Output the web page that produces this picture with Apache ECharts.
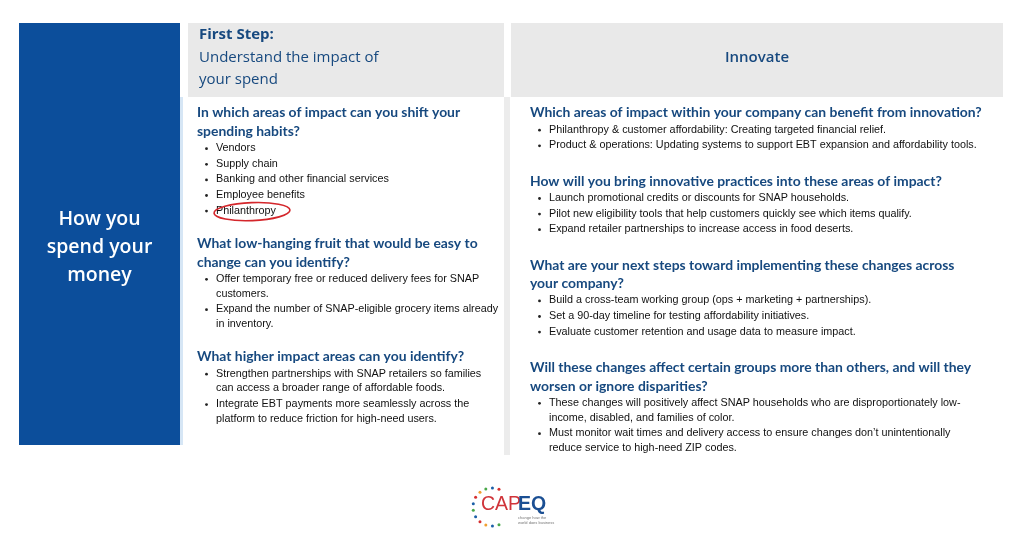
<!DOCTYPE html>
<html>
<head>
<meta charset="utf-8">
<script src="https://cdn.jsdelivr.net/npm/echarts@6/dist/echarts.min.js"></script>
<style>
  html, body { margin: 0; padding: 0; background: #fff; }
  #chart { width: 1024px; height: 533px; }
</style>
</head>
<body>
<div id="chart"></div>
<script>
// Text content
const sideLabel = ['How you', 'spend your', 'money'];
const leftHeader = ['First Step:', 'Understand the impact of', 'your spend'];
const rightHeader = 'Innovate';

const leftHeadings = [
    ['In which areas of impact can you shift your', 'spending habits?'],
    ['What low-hanging fruit that would be easy to', 'change can you identify?'],
    ['What higher impact areas can you identify?']
];
const leftBullets = [
    [['Vendors'], ['Supply chain'], ['Banking and other financial services'], ['Employee benefits'], ['Philanthropy']],
    [['Offer temporary free or reduced delivery fees for SNAP', 'customers.'],
     ['Expand the number of SNAP-eligible grocery items already', 'in inventory.']],
    [['Strengthen partnerships with SNAP retailers so families', 'can access a broader range of affordable foods.'],
     ['Integrate EBT payments more seamlessly across the', 'platform to reduce friction for high-need users.']]
];
const rightHeadings = [
    ['Which areas of impact within your company can benefit from innovation?'],
    ['How will you bring innovative practices into these areas of impact?'],
    ['What are your next steps toward implementing these changes across', 'your company?'],
    ['Will these changes affect certain groups more than others, and will they', 'worsen or ignore disparities?']
];
const rightBullets = [
    [['Philanthropy & customer affordability: Creating targeted financial relief.'],
     ['Product & operations: Updating systems to support EBT expansion and affordability tools.']],
    [['Launch promotional credits or discounts for SNAP households.'],
     ['Pilot new eligibility tools that help customers quickly see which items qualify.'],
     ['Expand retailer partnerships to increase access in food deserts.']],
    [['Build a cross-team working group (ops + marketing + partnerships).'],
     ['Set a 90-day timeline for testing affordability initiatives.'],
     ['Evaluate customer retention and usage data to measure impact.']],
    [['These changes will positively affect SNAP households who are disproportionately low-', 'income, disabled, and families of color.'],
     ['Must monitor wait times and delivery access to ensure changes don\u2019t unintentionally', 'reduce service to high-need ZIP codes.']]
];
const circledItem = 'Philanthropy';
const logoParts = ['CAP', 'EQ'];
const logoTagline = ['change how the', 'world does business'];
const logoDotColors = ['#d62e2e', '#1b5fa8', '#4aa84a', '#f0a030', '#d62e2e', '#1b5fa8', '#4aa84a', '#1b5fa8', '#d62e2e', '#f0a030', '#1b5fa8', '#4aa84a'];

// Styles
const BLUE = '#0c4e9b';
const HEAD = '#17497f';
const GRAY = '#e9e9e9';
const headFont = 'bold 13.9px Lato, "Open Sans", sans-serif';
const bulletFont = '10.8px "Liberation Sans", sans-serif';

const chart = echarts.init(document.getElementById('chart'), null, { renderer: 'canvas' });
const els = [];

function txt(x, y, text, font, fill, align) {
    els.push({
        type: 'text',
        style: { x: x, y: y, text: text, font: font, fill: fill,
                 textAlign: align || 'left', textVerticalAlign: 'middle' }
    });
}
function rect(x, y, w, h, fill) {
    els.push({ type: 'rect', shape: { x: x, y: y, width: w, height: h }, style: { fill: fill } });
}

// Boxes
rect(19, 23, 161, 422, BLUE);
rect(180, 97, 3, 348, '#d6e6f5');
rect(188, 23, 316, 74, GRAY);
rect(511, 23, 492, 74, GRAY);
rect(504, 97, 6, 358, '#ececec');

// Side label
sideLabel.forEach((s, i) => txt(99.5, 219 + i * 28, s, '600 19.5px "Open Sans", sans-serif', '#fff', 'center'));

// Headers
txt(199, 35, leftHeader[0], 'bold 15px "Open Sans", sans-serif', HEAD);
txt(199, 58, leftHeader[1], '15px "Open Sans", sans-serif', HEAD);
txt(199, 80, leftHeader[2], '15px "Open Sans", sans-serif', HEAD);
txt(757, 58, rightHeader, '600 15px "Open Sans", sans-serif', HEAD, 'center');

// Column content flow
function column(x, y0, headings, bullets, sectionGap) {
    let y = y0;
    let circle = null;
    headings.forEach((hl, si) => {
        hl.forEach((line, li) => {
            txt(x, y, line, headFont, HEAD);
            if (li < hl.length - 1) y += 18.5;
        });
        y += 16.7;
        bullets[si].forEach((item, bi) => {
            els.push({ type: 'circle', shape: { cx: x + 9.5, cy: y + 0.5, r: 1.4 }, style: { fill: '#222' } });
            item.forEach((line, li) => {
                txt(x + 19, y, line, bulletFont, '#111');
                if (line === circledItem) circle = [x + 19, y];
                if (li < item.length - 1) y += 14.8;
            });
            if (bi < bullets[si].length - 1) y += 15.6;
        });
        y += sectionGap;
    });
    return circle;
}
const c = column(197, 113, leftHeadings, leftBullets, 33);
column(530, 113, rightHeadings, rightBullets, 36);

// Red hand-drawn circle around the circled item
if (c) {
    els.push({
        type: 'ellipse',
        shape: { cx: c[0] + 36, cy: c[1] + 1, rx: 38, ry: 9 },
        rotation: 0.04, originX: c[0] + 36, originY: c[1] + 1,
        style: { fill: 'none', stroke: '#d4262b', lineWidth: 1.6 }
    });
}

// Logo
const lcx = 492, lcy = 507, lr = 19;
logoDotColors.forEach((col, i) => {
    const a = Math.PI * (0.38 + i * 1.24 / (logoDotColors.length - 1));
    els.push({ type: 'circle', shape: { cx: lcx + lr * Math.cos(a), cy: lcy - lr * Math.sin(a), r: 1.5 }, style: { fill: col } });
});
txt(481, 505, logoParts[0], '19.5px "Liberation Sans", sans-serif', '#d0343a');
txt(518, 505, logoParts[1], 'bold 19.5px "Liberation Sans", sans-serif', '#1b4f93');
txt(518, 518, logoTagline[0], '4px sans-serif', '#777');
txt(518, 523, logoTagline[1], '4px sans-serif', '#777');

chart.setOption({
    backgroundColor: '#fff',
    animation: false,
    graphic: { elements: els }
});
</script>
</body>
</html>
